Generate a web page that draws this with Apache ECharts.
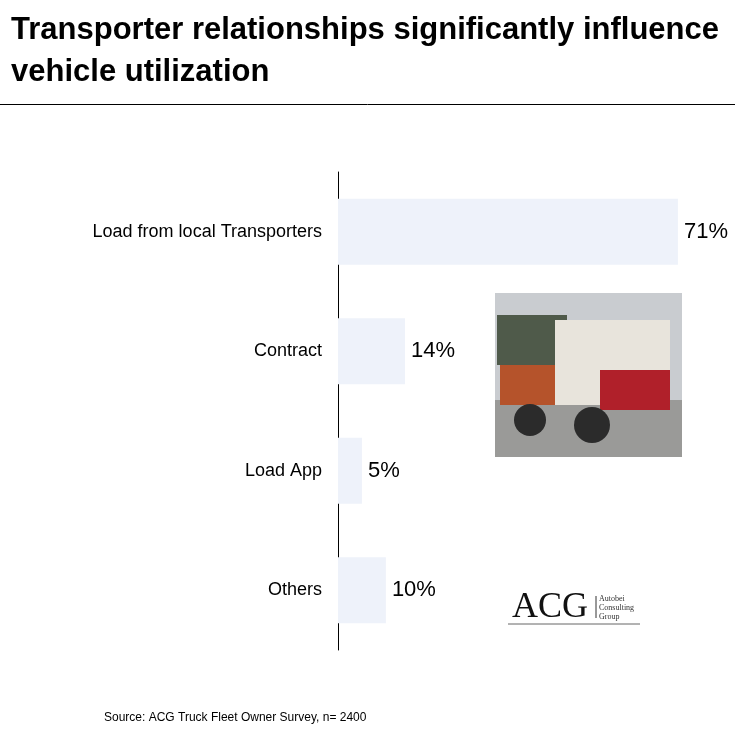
<!DOCTYPE html>
<html><head><meta charset="utf-8">
<script src="https://cdn.jsdelivr.net/npm/echarts@6/dist/echarts.min.js"></script>
<style>html,body{margin:0;background:#fff}#c{width:735px;height:735px}</style>
</head><body><div id="c"></div>
<script>
var categories = ['Load from local Transporters', 'Contract', 'Load App', 'Others'];
var shares = [71, 14, 5, 10];

var chart = echarts.init(document.getElementById('c'));
chart.setOption({
    animation: false,
    title: {
        text: 'Transporter relationships significantly influence\nvehicle utilization',
        left: 6, top: 4,
        textStyle: {fontFamily: 'Liberation Sans', fontSize: 31, fontWeight: 'bold', color: '#000', lineHeight: 42}
    },
    grid: {left: 338, top: 172, bottom: 85, right: 14},
    xAxis: {type: 'value', min: 0, max: 80, show: false},
    yAxis: {
        type: 'category', inverse: true, data: categories,
        axisLine: {lineStyle: {color: '#000', width: 1}},
        axisTick: {show: false},
        axisLabel: {fontFamily: 'Liberation Sans', fontSize: 18, color: '#000', margin: 16}
    },
    series: [{
        type: 'bar', data: shares, barWidth: 66,
        itemStyle: {color: '#eef2fa'},
        label: {show: true, position: 'right', formatter: '{c}%', fontFamily: 'Liberation Sans', fontSize: 22, color: '#000', distance: 6}
    }],
    graphic: [
        {type: 'line', shape: {x1: 0, y1: 104.5, x2: 735, y2: 104.5}, style: {stroke: '#000', lineWidth: 1}},
        {type: 'rect', shape: {x: 495, y: 293, width: 187, height: 164}, style: {fill: '#c9ccd0'}},
        {type: 'rect', shape: {x: 495, y: 400, width: 187, height: 57}, style: {fill: '#9a9a98'}},
        {type: 'rect', shape: {x: 497, y: 315, width: 70, height: 50}, style: {fill: '#4f5a4a'}},
        {type: 'rect', shape: {x: 500, y: 365, width: 60, height: 40}, style: {fill: '#b5532b'}},
        {type: 'rect', shape: {x: 555, y: 320, width: 115, height: 85}, style: {fill: '#e8e4dc'}},
        {type: 'rect', shape: {x: 600, y: 370, width: 70, height: 40}, style: {fill: '#b0202a'}},
        {type: 'circle', shape: {cx: 530, cy: 420, r: 16}, style: {fill: '#2b2b2b'}},
        {type: 'circle', shape: {cx: 592, cy: 425, r: 18}, style: {fill: '#2b2b2b'}},
        {type: 'text', left: 512, top: 590, style: {text: 'ACG', font: '36px "Liberation Serif"', fill: '#111'}},
        {type: 'line', shape: {x1: 596, y1: 596, x2: 596, y2: 618}, style: {stroke: '#333', lineWidth: 1}},
        {type: 'text', left: 599, top: 594, style: {text: 'Autobei\nConsulting\nGroup', font: '8px "Liberation Serif"', lineHeight: 9, fill: '#333'}},
        {type: 'line', shape: {x1: 508, y1: 624, x2: 640, y2: 624}, style: {stroke: '#666', lineWidth: 1}},
        {type: 'text', left: 104, top: 712, style: {text: 'Source: ACG Truck Fleet Owner Survey, n= 2400', font: '12px "Liberation Sans"', fill: '#000'}}
    ]
});
</script></body></html>
